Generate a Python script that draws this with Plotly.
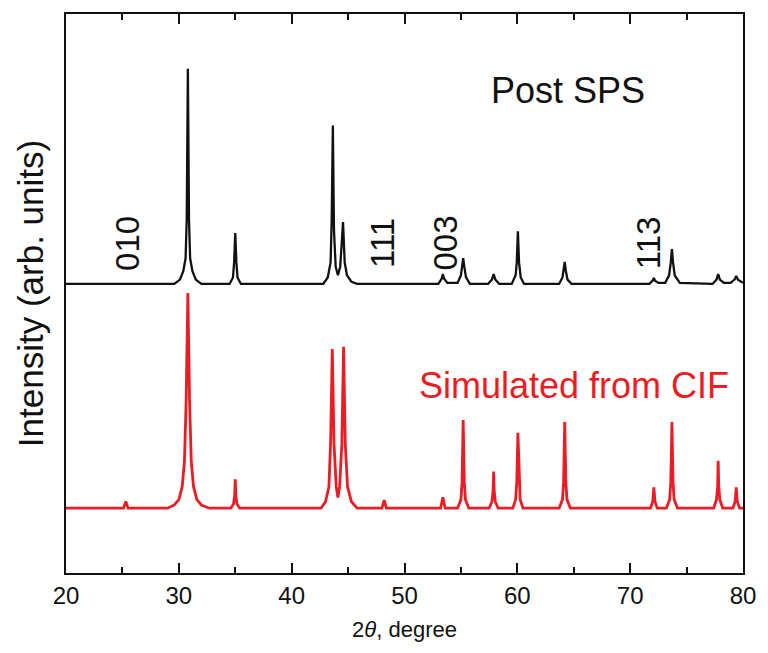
import plotly.graph_objects as go

# ---- data (2theta in degrees, intensity normalised to 100) ----
post_sps_2theta = [20.0, 29.6, 30.1, 30.4, 30.6, 30.7, 30.8, 30.9, 31.0, 31.2, 31.5, 32.0,
                   34.5, 34.8, 34.9, 35.0, 35.1, 35.2, 35.5,
                   42.8, 43.2, 43.45, 43.55, 43.65, 43.75, 43.9, 44.1, 44.3, 44.45, 44.55, 44.7, 44.9, 45.3, 45.8,
                   53.0, 53.3, 53.4, 53.5, 53.8,
                   54.7, 55.0, 55.1, 55.2, 55.3, 55.45, 55.8,
                   57.4, 57.75, 57.9, 58.05, 58.4,
                   59.5, 59.85, 59.95, 60.05, 60.15, 60.3, 60.6,
                   63.7, 64.0, 64.1, 64.2, 64.3, 64.45, 64.8,
                   71.7, 72.0, 72.1, 72.2, 72.5,
                   73.1, 73.45, 73.6, 73.7, 73.8, 73.95, 74.4,
                   77.3, 77.65, 77.8, 77.95, 78.3,
                   78.9, 79.25, 79.4, 79.55, 80.0]
post_sps_int = [0, 0, 2, 6, 12, 30, 100, 30, 12, 6, 2, 0,
                0, 3, 10, 23.6, 10, 3, 0,
                0, 3, 10, 30, 73.6, 25, 8, 4, 8, 20, 28.7, 10, 4, 1, 0,
                0, 2.5, 4.6, 2.5, 0.5,
                0.5, 4, 8, 12, 8, 3, 0,
                0, 2, 4.6, 2, 0,
                0, 4, 10, 24.5, 10, 3, 0,
                0, 3, 6, 10.2, 6, 2, 0,
                0, 1.5, 2.8, 1.5, 0.5,
                0.5, 4, 10, 16.2, 10, 4, 0.5,
                0, 2, 4.6, 2, 0.5,
                0.5, 2, 3.7, 2, 0.5]

cif_2theta = [20.0, 25.1, 25.3, 25.5,
              29.0, 29.6, 30.0, 30.3, 30.5, 30.65, 30.8, 30.95, 31.1, 31.3, 31.6, 32.0, 32.7,
              34.6, 34.85, 34.95, 35.0, 35.05, 35.15, 35.4,
              42.6, 43.0, 43.3, 43.45, 43.6, 43.75, 43.95, 44.1, 44.25, 44.45, 44.6, 44.75, 44.95, 45.3, 45.8,
              48.0, 48.2, 48.4,
              53.2, 53.4, 53.6,
              54.7, 55.0, 55.1, 55.2, 55.3, 55.4, 55.7,
              57.5, 57.75, 57.85, 57.9, 57.95, 58.05, 58.3,
              59.6, 59.85, 59.95, 60.05, 60.15, 60.25, 60.5,
              63.7, 64.0, 64.1, 64.2, 64.3, 64.4, 64.7,
              71.8, 72.0, 72.1, 72.2, 72.4,
              73.2, 73.5, 73.6, 73.7, 73.8, 73.9, 74.2,
              77.4, 77.65, 77.75, 77.8, 77.85, 77.95, 78.2,
              79.1, 79.3, 79.4, 79.5, 79.7, 80.0]
cif_int = [0, 0, 3.2, 0,
           0, 1.5, 4, 10, 22, 50, 100, 50, 22, 10, 4, 1.5, 0,
           0, 2, 6, 13.4, 6, 2, 0,
           0, 3, 10, 30, 74, 30, 10, 5, 10, 30, 75, 30, 10, 3, 0,
           0, 3.7, 0,
           0, 5.1, 0,
           0, 4, 12, 41, 12, 4, 0,
           0, 3, 8, 17, 8, 3, 0,
           0, 4, 12, 35, 12, 4, 0,
           0, 4, 12, 40, 12, 4, 0,
           0, 3, 9.7, 3, 0,
           0, 4, 12, 40, 12, 4, 0,
           0, 4, 10, 22, 10, 4, 0,
           0, 3, 9.7, 3, 0, 0]

post_sps_offset = 104.2
peak_labels = ["010", "111", "003", "113"]
peak_label_2theta = [25.4, 48.0, 53.55, 71.6]
x_tick_vals = [20, 30, 40, 50, 60, 70, 80]

FONT = "Arial, 'Liberation Sans', sans-serif"

fig = go.Figure()
fig.add_trace(go.Scatter(x=post_sps_2theta, y=[v + post_sps_offset for v in post_sps_int],
                         mode="lines", line=dict(color="#111111", width=2.3), name="Post SPS"))
fig.add_trace(go.Scatter(x=cif_2theta, y=cif_int, mode="lines",
                         line=dict(color="rgb(236,28,36)", width=2.8), name="Simulated from CIF"))

for lab, xv in zip(peak_labels, peak_label_2theta):
    fig.add_annotation(x=xv, y=post_sps_offset + 19, text=lab, textangle=-90, showarrow=False,
                       font=dict(family=FONT, size=33, color="#111111"))

fig.add_annotation(x=64.5, y=post_sps_offset + 90, text="Post SPS", showarrow=False,
                   font=dict(family=FONT, size=36, color="#111111"))
fig.add_annotation(x=65.0, y=57, text="Simulated from CIF", showarrow=False,
                   font=dict(family=FONT, size=36, color="rgb(236,28,36)"))

fig.update_layout(
    width=768, height=653,
    margin=dict(l=66, r=18, t=12, b=80),
    paper_bgcolor="white", plot_bgcolor="white",
    showlegend=False,
    font=dict(family=FONT, color="#111111"),
)
fig.update_xaxes(range=[20, 80], tickvals=x_tick_vals, ticks="inside", ticklen=10, tickwidth=1.5,
                 tickcolor="#111111",
                 minor=dict(dtick=5, ticks="inside", ticklen=6, tickwidth=1.5, tickcolor="#111111", showgrid=False),
                 showline=True, linecolor="#111111", linewidth=2, mirror="allticks", showgrid=False,
                 zeroline=False, tickfont=dict(size=24, family=FONT),
                 title=dict(text="2<i>θ</i>, degree", font=dict(size=22, family=FONT), standoff=14))
fig.update_yaxes(range=[-30.1, 229.6], showticklabels=False, ticks="", showline=True, linecolor="#111111",
                 linewidth=2, mirror=True, showgrid=False, zeroline=False,
                 title=dict(text="Intensity (arb. units)", font=dict(size=35, family=FONT), standoff=10))

fig.write_html("out.html")
